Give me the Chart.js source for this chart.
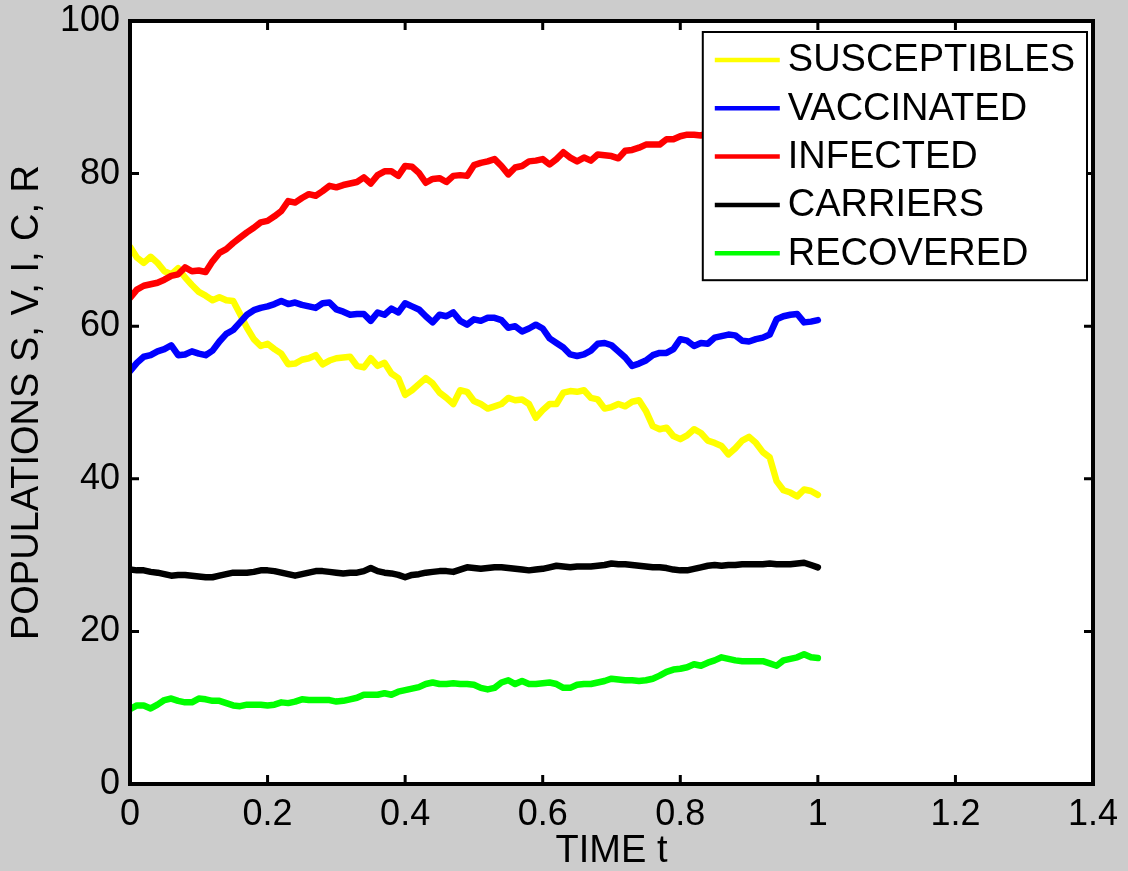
<!DOCTYPE html>
<html>
<head>
<meta charset="utf-8">
<script src="https://cdn.jsdelivr.net/npm/chart.js@4.4.1/dist/chart.umd.min.js"></script>
<style>
html,body{margin:0;padding:0;background:#cccccc;}
#wrap{width:1128px;height:871px;position:relative;}
</style>
</head>
<body>
<div id="wrap"><canvas id="c"></canvas></div>
<script>
const times = [0,0.01,0.02,0.03,0.04,0.05,0.06,0.07,0.08,0.09,
0.10,0.11,0.12,0.13,0.14,0.15,0.16,0.17,0.18,0.19,
0.20,0.21,0.22,0.23,0.24,0.25,0.26,0.27,0.28,0.29,
0.30,0.31,0.32,0.33,0.34,0.35,0.36,0.37,0.38,0.39,
0.40,0.41,0.42,0.43,0.44,0.45,0.46,0.47,0.48,0.49,
0.50,0.51,0.52,0.53,0.54,0.55,0.56,0.57,0.58,0.59,
0.60,0.61,0.62,0.63,0.64,0.65,0.66,0.67,0.68,0.69,
0.70,0.71,0.72,0.73,0.74,0.75,0.76,0.77,0.78,0.79,
0.80,0.81,0.82,0.83,0.84,0.85,0.86,0.87,0.88,0.89,
0.90,0.91,0.92,0.93,0.94,0.95,0.96,0.97,0.98,0.99,
1.00];

const susceptibles = [70.4,69.0,68.3,69.1,68.3,67.2,66.8,67.6,66.4,65.4,
64.5,64.0,63.4,63.8,63.4,63.3,61.6,59.8,58.3,57.4,
57.7,57.0,56.4,55.0,55.1,55.6,55.8,56.2,55.0,55.5,
55.8,55.9,56.0,54.8,54.6,55.8,54.8,55.2,53.8,53.2,
51.0,51.6,52.4,53.2,52.5,51.3,50.6,49.8,51.6,51.4,
50.2,49.8,49.2,49.5,49.8,50.6,50.3,50.4,49.8,48.0,
49.0,49.8,49.8,51.3,51.5,51.4,51.6,50.6,50.4,49.2,
49.4,49.8,49.5,50.1,50.3,48.9,46.9,46.5,46.7,45.6,
45.2,45.7,46.5,46.0,45.0,44.7,44.3,43.2,44.0,45.0,
45.5,44.7,43.5,42.8,39.7,38.5,38.2,37.7,38.6,38.4,
37.9];

const vaccinated = [54.1,55.2,56.0,56.2,56.7,57.0,57.5,56.2,56.3,56.7,
56.4,56.2,56.8,58.0,59.0,59.5,60.5,61.5,62.1,62.4,
62.6,62.9,63.3,62.9,63.1,62.8,62.6,62.4,63.0,63.1,
62.2,61.9,61.5,61.6,61.6,60.7,61.8,61.5,62.3,61.8,
63.0,62.6,62.2,61.3,60.5,61.5,61.3,61.8,60.7,60.2,
60.9,60.7,61.1,61.1,60.8,59.8,60.0,59.3,59.7,60.2,
59.7,58.4,57.8,57.2,56.3,56.1,56.3,56.8,57.7,57.8,
57.5,56.7,55.9,54.8,55.1,55.5,56.2,56.5,56.5,57.0,
58.3,58.1,57.4,57.8,57.7,58.5,58.7,58.9,58.8,58.1,
58.0,58.3,58.5,58.9,60.9,61.3,61.5,61.6,60.5,60.6,
60.8];

const infected = [63.7,64.8,65.3,65.5,65.7,66.1,66.6,66.8,67.7,67.2,
67.3,67.1,68.5,69.6,70.1,70.9,71.6,72.3,72.9,73.6,
73.8,74.4,75.1,76.4,76.2,76.8,77.3,77.1,77.7,78.4,
78.2,78.5,78.7,78.9,79.5,78.7,79.8,80.3,80.3,79.7,
81.0,80.9,80.1,78.8,79.3,79.4,78.9,79.7,79.8,79.7,
81.1,81.4,81.6,81.9,81.0,79.9,80.8,81.0,81.6,81.7,
81.9,81.2,81.9,82.8,82.1,81.6,82.1,81.7,82.5,82.4,
82.3,82.0,83.0,83.1,83.4,83.8,83.8,83.8,84.5,84.5,
84.9,85.1,85.1,85.0,85.3];

const carriers = [28.1,28.0,28.0,27.8,27.7,27.5,27.3,27.4,27.4,27.3,
27.2,27.1,27.1,27.3,27.5,27.7,27.7,27.7,27.8,28.0,
28.0,27.9,27.7,27.5,27.3,27.5,27.7,27.9,27.9,27.8,
27.7,27.6,27.7,27.7,27.9,28.3,27.9,27.7,27.6,27.4,
27.1,27.4,27.5,27.7,27.8,27.9,27.9,27.8,28.1,28.4,
28.3,28.2,28.3,28.4,28.4,28.3,28.2,28.1,28.0,28.1,
28.2,28.4,28.6,28.5,28.4,28.5,28.5,28.5,28.6,28.7,
28.9,28.8,28.8,28.7,28.6,28.5,28.4,28.4,28.3,28.1,
28.0,28.0,28.2,28.4,28.6,28.7,28.6,28.7,28.7,28.8,
28.8,28.8,28.8,28.9,28.8,28.8,28.8,28.9,29.0,28.7,
28.4];

const recovered = [9.8,10.3,10.3,9.9,10.4,11.0,11.2,10.9,10.7,10.7,
11.2,11.1,10.9,10.9,10.6,10.3,10.2,10.4,10.4,10.4,
10.3,10.4,10.7,10.6,10.8,11.1,11.0,11.0,11.0,11.0,
10.8,10.9,11.1,11.3,11.7,11.7,11.7,11.9,11.7,12.1,
12.3,12.5,12.7,13.1,13.3,13.1,13.1,13.2,13.1,13.1,
13.0,12.6,12.4,12.6,13.3,13.6,13.1,13.5,13.1,13.1,
13.2,13.3,13.1,12.6,12.6,13.0,13.1,13.1,13.3,13.5,
13.8,13.7,13.6,13.6,13.5,13.6,13.8,14.2,14.7,15.0,
15.1,15.3,15.7,15.5,15.9,16.2,16.6,16.4,16.2,16.1,
16.1,16.1,16.1,15.8,15.5,16.2,16.4,16.6,17.0,16.6,
16.5];

const seriesNames = ['SUSCEPTIBLES','VACCINATED','INFECTED','CARRIERS','RECOVERED'];
const seriesColors = ['#ffff00','#0000ff','#ff0000','#000000','#00ff00'];
const xTickValues = [0,0.2,0.4,0.6,0.8,1,1.2,1.4];
const xTickLabels = ['0','0.2','0.4','0.6','0.8','1','1.2','1.4'];
const yTickValues = [0,20,40,60,80,100];
const yTickLabels = ['0','20','40','60','80','100'];
const xTitle = 'TIME t';
const yTitle = 'POPULATIONS S, V, I, C, R';

const FONT = '"Liberation Sans", Arial, Helvetica, sans-serif';
const seriesValues = [susceptibles, vaccinated, infected, carriers, recovered];

const datasets = seriesValues.map((vals, k) => ({
  label: seriesNames[k],
  data: vals.map((v, i) => ({x: times[i], y: v})),
  borderColor: seriesColors[k],
  backgroundColor: seriesColors[k],
  borderWidth: 6.5,
  pointRadius: 0,
  pointHoverRadius: 0,
  tension: 0,
  fill: false,
  borderJoinStyle: 'round',
  borderCapStyle: 'round',
  order: seriesValues.length - k
}));

const framePlugin = {
  id: 'framePlugin',
  beforeDatasetsDraw(chart) {
    const {ctx, chartArea: a} = chart;
    ctx.save();
    ctx.fillStyle = '#ffffff';
    ctx.fillRect(a.left, a.top, a.right - a.left, a.bottom - a.top);
    ctx.restore();
  },
  afterDatasetsDraw(chart) {
    const {ctx, chartArea: a, scales} = chart;
    ctx.save();
    ctx.strokeStyle = '#000000';
    ctx.lineWidth = 3;
    const L = 9;
    ctx.beginPath();
    xTickValues.forEach(v => {
      const px = scales.x.getPixelForValue(v);
      ctx.moveTo(px, a.bottom); ctx.lineTo(px, a.bottom - L);
      ctx.moveTo(px, a.top); ctx.lineTo(px, a.top + L);
    });
    yTickValues.forEach(v => {
      const py = scales.y.getPixelForValue(v);
      ctx.moveTo(a.left, py); ctx.lineTo(a.left + L, py);
      ctx.moveTo(a.right, py); ctx.lineTo(a.right - L, py);
    });
    ctx.stroke();
    ctx.lineWidth = 4;
    ctx.strokeRect(a.left, a.top, a.right - a.left, a.bottom - a.top);

    // legend
    ctx.font = '38px ' + FONT;
    const textW = Math.max(...seriesNames.map(n => ctx.measureText(n).width));
    const padL = 12, lineLen = 65, gap = 8, padR = 12, rowH = 48.3, padT = 28;
    const w = padL + lineLen + gap + textW + padR;
    const h = padT + rowH * (seriesNames.length - 1) + 27;
    const bx = a.right - 6 - w;
    const by = a.top + 11;
    ctx.fillStyle = '#ffffff';
    ctx.fillRect(bx, by, w, h);
    ctx.lineWidth = 2;
    ctx.strokeStyle = '#000000';
    ctx.strokeRect(bx, by, w, h);
    ctx.textBaseline = 'middle';
    ctx.textAlign = 'left';
    seriesNames.forEach((n, k) => {
      const cy = by + padT + rowH * k;
      ctx.strokeStyle = seriesColors[k];
      ctx.lineWidth = 4.5;
      ctx.beginPath();
      ctx.moveTo(bx + padL, cy);
      ctx.lineTo(bx + padL + lineLen, cy);
      ctx.stroke();
      ctx.fillStyle = '#000000';
      ctx.fillText(n, bx + padL + lineLen + gap, cy + 1);
    });
    ctx.restore();
  }
};

new Chart(document.getElementById('c'), {
  type: 'line',
  data: { datasets },
  options: {
    responsive: true,
    maintainAspectRatio: false,
    animation: false,
    events: [],
    layout: { padding: { top: 21, right: 35, left: 0, bottom: 0 } },
    plugins: {
      legend: { display: false },
      tooltip: { enabled: false },
      title: { display: false }
    },
    scales: {
      x: {
        type: 'linear',
        min: 0,
        max: 1.4,
        afterBuildTicks: s => { s.ticks = xTickValues.map(v => ({value: v})); },
        afterFit: s => { s.height = 87; s.paddingLeft = 0; s.paddingRight = 0; },
        grid: { display: false, drawTicks: false },
        border: { display: false },
        ticks: {
          autoSkip: false,
          maxRotation: 0,
          padding: 9,
          color: '#000000',
          font: { family: FONT, size: 36 },
          callback: (v, i) => xTickLabels[i]
        },
        title: {
          display: true,
          text: xTitle,
          color: '#000000',
          font: { family: FONT, size: 38, lineHeight: 1 },
          padding: 0
        }
      },
      y: {
        type: 'linear',
        min: 0,
        max: 100,
        afterBuildTicks: s => { s.ticks = yTickValues.map(v => ({value: v})); },
        afterFit: s => { s.width = 130; s.paddingTop = 0; s.paddingBottom = 0; },
        grid: { display: false, drawTicks: false },
        border: { display: false },
        ticks: {
          autoSkip: false,
          padding: 10,
          color: '#000000',
          font: { family: FONT, size: 36 },
          callback: (v, i) => yTickLabels[i]
        },
        title: {
          display: true,
          text: yTitle,
          color: '#000000',
          font: { family: FONT, size: 38, lineHeight: 1 },
          padding: { top: 9, bottom: 0 }
        }
      }
    }
  },
  plugins: [framePlugin]
});
</script>
</body>
</html>
